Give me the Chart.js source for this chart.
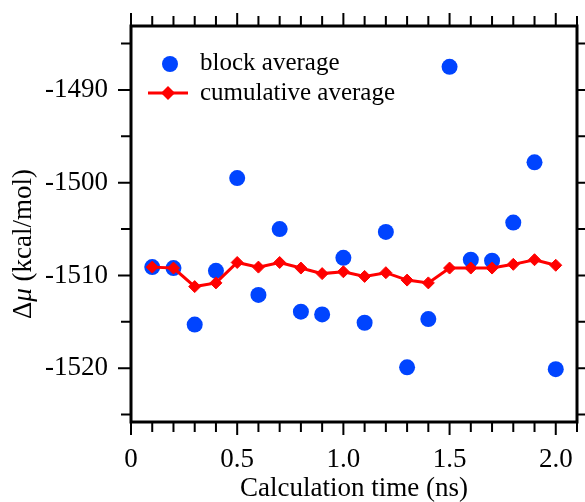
<!DOCTYPE html>
<html>
<head>
<meta charset="utf-8">
<script src="https://cdn.jsdelivr.net/npm/chart.js@4.4.1/dist/chart.umd.min.js"></script>
<style>
  html, body { margin: 0; padding: 0; background: #fff; }
  #wrap { width: 585px; height: 502px; }
</style>
</head>
<body>
<div id="wrap"><canvas id="muChart"></canvas></div>
<script>
// calculation time (ns)
const times = [0.1, 0.2, 0.3, 0.4, 0.5, 0.6, 0.7, 0.8, 0.9, 1.0,
               1.1, 1.2, 1.3, 1.4, 1.5, 1.6, 1.7, 1.8, 1.9, 2.0];
// delta mu per block (kcal/mol)
const blockAvg = [-1509.1, -1509.2, -1515.3, -1509.5, -1499.5, -1512.1, -1505.0, -1513.9, -1514.2, -1508.1,
                  -1515.1, -1505.3, -1519.9, -1514.7, -1487.5, -1508.3, -1508.4, -1504.3, -1497.8, -1520.1];
// running mean of the blocks
const cumulativeAvg = [-1509.1, -1509.2, -1511.2, -1510.8, -1508.6, -1509.1, -1508.6, -1509.2, -1509.8, -1509.6,
                       -1510.1, -1509.7, -1510.5, -1510.8, -1509.2, -1509.2, -1509.2, -1508.8, -1508.3, -1508.9];

const xTickValues = [0, 0.5, 1.0, 1.5, 2.0];
const xTickLabels = ['0', '0.5', '1.0', '1.5', '2.0'];
const yTickValues = [-1520, -1510, -1500, -1490];
const seriesNames = ['block average', 'cumulative average'];

const SERIF = '"Liberation Serif", "Times New Roman", serif';
const BLUE = '#0044ff';
const RED = '#ff0000';

// frame, outward ticks on all four sides, legend and y title
const framePlugin = {
  id: 'frame',
  afterDraw(chart) {
    const ctx = chart.ctx;
    const { left, right, top, bottom } = chart.chartArea;
    const xs = chart.scales.x, ys = chart.scales.y;
    ctx.save();
    ctx.strokeStyle = '#000';
    ctx.lineWidth = 2;
    ctx.beginPath();
    for (let i = 0; i <= 21; i++) {
      const px = xs.getPixelForValue(i / 10);
      const len = i % 5 === 0 ? 13 : 10;
      ctx.moveTo(px, bottom); ctx.lineTo(px, bottom + len);
      ctx.moveTo(px, top); ctx.lineTo(px, top - len);
    }
    for (let v = -1525; v <= -1485; v += 5) {
      const py = ys.getPixelForValue(v);
      const len = v % 10 === 0 ? 13 : 10;
      ctx.moveTo(left, py); ctx.lineTo(left - len, py);
      ctx.moveTo(right, py); ctx.lineTo(right + len, py);
    }
    ctx.stroke();
    ctx.lineWidth = 3;
    ctx.strokeRect(left, top, right - left, bottom - top);

    // legend
    ctx.font = '25px ' + SERIF;
    ctx.textBaseline = 'middle';
    ctx.textAlign = 'left';
    ctx.fillStyle = '#000';
    ctx.fillText(seriesNames[0], 200, 63.5);
    ctx.fillText(seriesNames[1], 200, 93);
    ctx.fillStyle = BLUE;
    ctx.beginPath();
    ctx.arc(170, 64, 8, 0, Math.PI * 2);
    ctx.fill();
    ctx.strokeStyle = RED;
    ctx.lineWidth = 3;
    ctx.beginPath();
    ctx.moveTo(148, 93); ctx.lineTo(188, 93);
    ctx.stroke();
    ctx.fillStyle = RED;
    ctx.beginPath();
    ctx.moveTo(168, 86); ctx.lineTo(175, 93); ctx.lineTo(168, 100); ctx.lineTo(161, 93);
    ctx.closePath();
    ctx.fill();

    // y axis title with italic mu
    const parts = [
      ['27px ' + SERIF, '\u0394'],
      ['italic 27px ' + SERIF, '\u03bc'],
      ['27px ' + SERIF, ' (kcal/mol)']
    ];
    let total = 0;
    parts.forEach(p => { ctx.font = p[0]; total += ctx.measureText(p[1]).width; });
    ctx.translate(24, 244);
    ctx.rotate(-Math.PI / 2);
    ctx.fillStyle = '#000';
    let cx = -total / 2;
    parts.forEach(p => {
      ctx.font = p[0];
      ctx.fillText(p[1], cx, 0);
      cx += ctx.measureText(p[1]).width;
    });
    ctx.restore();
  }
};

new Chart(document.getElementById('muChart'), {
  type: 'line',
  data: {
    datasets: [
      {
        label: seriesNames[1],
        data: times.map((t, i) => ({ x: t, y: cumulativeAvg[i] })),
        borderColor: RED,
        backgroundColor: RED,
        borderWidth: 3,
        pointStyle: 'rectRot',
        pointRadius: 6,
        pointBorderWidth: 1,
        tension: 0,
        order: 0
      },
      {
        label: seriesNames[0],
        data: times.map((t, i) => ({ x: t, y: blockAvg[i] })),
        showLine: false,
        backgroundColor: BLUE,
        borderColor: BLUE,
        pointStyle: 'circle',
        pointRadius: 8,
        pointBorderWidth: 0,
        order: 1
      }
    ]
  },
  options: {
    responsive: true,
    maintainAspectRatio: false,
    devicePixelRatio: 1,
    animation: false,
    layout: { padding: { top: 26, right: 6, left: 0, bottom: 0 } },
    plugins: { legend: { display: false }, tooltip: { enabled: false } },
    scales: {
      x: {
        type: 'linear',
        min: 0,
        max: 2.1,
        afterBuildTicks: s => { s.ticks = xTickValues.map(v => ({ value: v })); },
        afterFit: s => { s.height = 80; s.paddingLeft = 0; s.paddingRight = 0; },
        grid: { display: false, drawTicks: false },
        border: { display: false },
        ticks: {
          autoSkip: false,
          maxRotation: 0,
          padding: 22,
          color: '#000',
          font: { family: SERIF, size: 27 },
          callback: v => xTickLabels[xTickValues.indexOf(v)]
        },
        title: {
          display: true,
          text: 'Calculation time (ns)',
          color: '#000',
          font: { family: SERIF, size: 27, lineHeight: 1 },
          padding: { top: 0, bottom: 0 }
        }
      },
      y: {
        type: 'linear',
        min: -1525.8,
        max: -1483.1,
        afterBuildTicks: s => { s.ticks = yTickValues.map(v => ({ value: v })); },
        afterFit: s => { s.width = 131; s.paddingTop = 0; s.paddingBottom = 0; },
        grid: { display: false, drawTicks: false },
        border: { display: false },
        ticks: {
          padding: 23,
          color: '#000',
          font: { family: SERIF, size: 27 },
          callback: v => String(v)
        }
      }
    }
  },
  plugins: [framePlugin]
});
</script>
</body>
</html>
